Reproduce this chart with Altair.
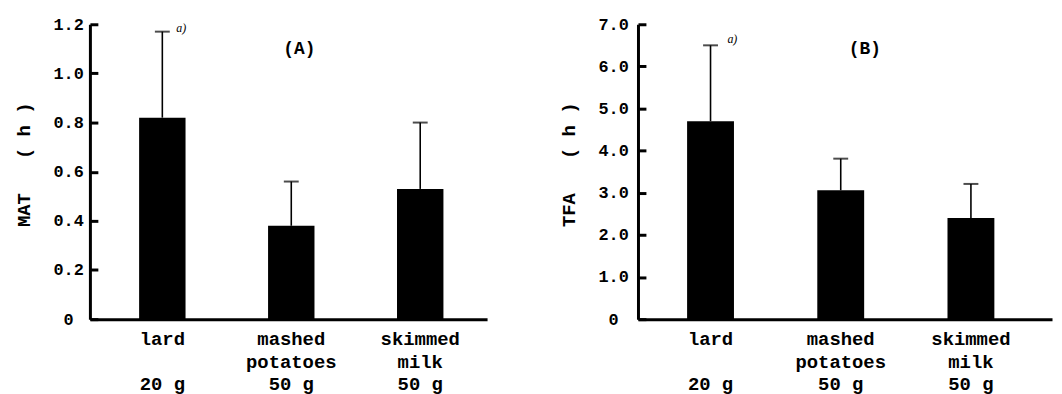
import altair as alt
import pandas as pd

# categories (lines of the x labels separated by "|")
foods = ["lard|\u200b|20 g", "mashed|potatoes|50 g", "skimmed|milk|50 g"]

# panel A: MAT (h)
mat_mean = [0.82, 0.38, 0.53]
mat_upper = [1.17, 0.56, 0.80]
mat_ticks = [0, 0.2, 0.4, 0.6, 0.8, 1.0, 1.2]

# panel B: TFA (h)
tfa_mean = [4.70, 3.06, 2.40]
tfa_upper = [6.50, 3.81, 3.21]
tfa_ticks = [0, 1.0, 2.0, 3.0, 4.0, 5.0, 6.0, 7.0]

notes = ["a)", "", ""]

FONT = "Liberation Mono"


def panel(means, uppers, ticks, ymax, ytitle, ptitle, width, pin, pout, align,
          lab_pad, note_dx, note_dy, title_dx, title_dy):
    df = pd.DataFrame({"food": foods, "mean": means, "upper": uppers, "note": notes})
    xenc = alt.X(
        "food:N", sort=foods,
        scale=alt.Scale(paddingInner=pin, paddingOuter=pout, align=align),
        axis=alt.Axis(
            title=None, labelAngle=0, ticks=False, tickSize=0, domainWidth=3,
            domainColor="black", labelExpr="split(datum.label, '|')",
            labelFont=FONT, labelFontSize=19, labelFontWeight="bold",
            labelLineHeight=22.5, labelPadding=11, labelColor="black", grid=False,
        ),
    )
    yscale = alt.Scale(domain=[0, ymax], nice=False, zero=True)
    # inward ticks drawn as very short dashed grid lines starting at the axis
    yaxis = alt.Axis(
        values=ticks, grid=True, gridColor="black", gridOpacity=1, gridWidth=3,
        gridDash=[8, 3000],
        ticks=False, tickSize=0, domainWidth=3, domainColor="black",
        labelExpr="datum.value == 0 ? '0' : format(datum.value, '.1f')",
        labelAlign="center", labelBaseline="middle", labelPadding=lab_pad,
        labelFont=FONT, labelFontSize=17, labelFontWeight="bold", labelColor="black",
        title=ytitle, titleFont=FONT, titleFontSize=19, titleFontWeight="bold",
        titleColor="black", titlePadding=19.5, titleY=141,
    )
    base = alt.Chart(df)
    bars = base.mark_bar(color="black").encode(
        x=xenc, y=alt.Y("mean:Q", scale=yscale, axis=yaxis)
    )
    err = base.mark_rule(color="black", strokeWidth=1.6).encode(
        x=alt.X("food:N", sort=foods), y="mean:Q", y2="upper:Q"
    )
    cap = base.mark_tick(color="black", thickness=2, size=15).encode(
        x=alt.X("food:N", sort=foods), y="upper:Q"
    )
    note = base.transform_filter("datum.note != ''").mark_text(
        align="left", baseline="middle", dx=note_dx, dy=note_dy,
        font="Liberation Serif", fontStyle="italic", fontSize=12, color="black"
    ).encode(x=alt.X("food:N", sort=foods), y="upper:Q", text="note:N")
    return alt.layer(bars, err, cap, note).properties(
        width=width, height=297,
        title=alt.TitleParams(
            ptitle, anchor="middle", frame="group", dx=title_dx, dy=title_dy,
            font=FONT, fontSize=18, fontWeight="bold", color="black",
        ),
    )


left = panel(mat_mean, mat_upper, mat_ticks, 1.2, "MAT\u00a0\u00a0\u00a0( h )", "(A)", 400,
             0.64, 0.36, 0.53, 22, 14, -4, 11, 47)
right = panel(tfa_mean, tfa_upper, tfa_ticks, 7.0, "TFA\u00a0\u00a0\u00a0( h )", "(B)", 417,
              0.64, 0.41, 0.46, 25, 17, -6, 20, 47)

chart = alt.hconcat(left, right, spacing=73).configure(
    padding={"left": 6.5, "top": 6, "right": 2, "bottom": 0},
    background="white",
).configure_view(stroke=None)

chart.save("out.html", embed_options={"renderer": "svg", "actions": False})
